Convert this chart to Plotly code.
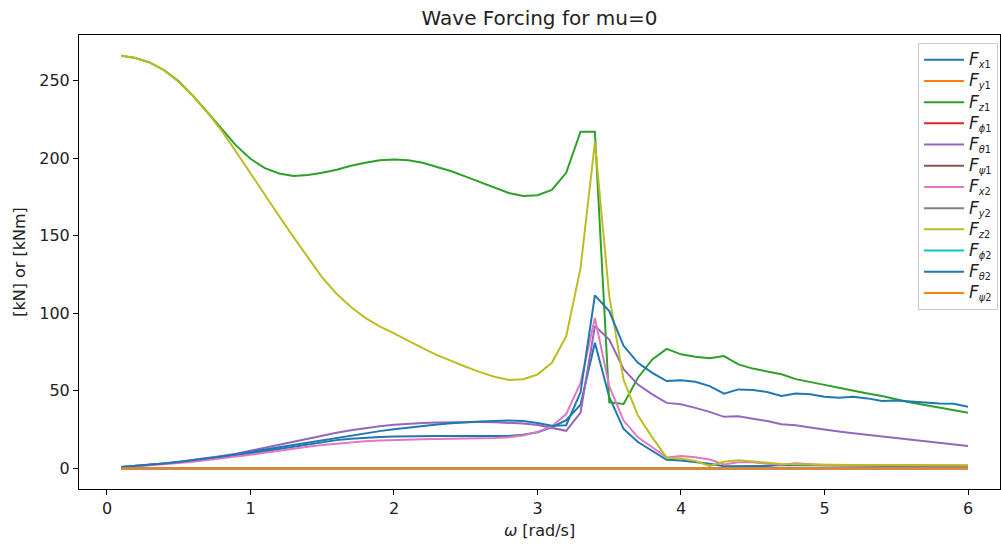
import plotly.graph_objects as go

omega = [round(0.1 * i, 1) for i in range(1, 61)]

F_x1 = [0.8, 1.5, 2.2, 3.0, 3.9, 4.9, 6.0, 7.2, 8.4, 9.7,
        11.1, 12.6, 14.1, 15.6, 17.0, 18.2, 19.1, 19.8, 20.2, 20.5,
        20.7, 20.8, 20.8, 20.8, 20.7, 20.6, 20.6, 20.8, 21.6, 23.3,
        26.5, 31.0, 41.0, 81.0, 46.0, 25.4, 17.0, 11.5, 5.5, 5.0,
        4.0, 2.9, 1.4, 1.3, 1.2, 1.5, 2.1, 2.0, 1.7, 1.5,
        1.4, 1.6, 1.3, 1.3, 1.3, 1.2, 1.2, 1.2, 1.2, 1.2]
F_y1 = [0.0] * 60
F_z1 = [266.0, 264.5, 261.5, 256.5, 249.5, 240.0, 229.5, 218.5, 208.0, 199.5,
        193.5, 190.0, 188.5, 189.0, 190.5, 192.5, 195.0, 197.0, 198.5, 199.0,
        198.5, 197.0, 194.5, 191.5, 188.0, 184.5, 181.0, 177.5, 175.5, 176.0,
        179.5, 190.5, 217.0, 217.0, 42.6, 41.5, 58.4, 70.2, 77.0, 73.5,
        72.0, 71.0, 72.4, 67.0, 64.3, 62.5, 60.6, 57.5, 55.5, 53.8,
        52.0, 50.0, 48.3, 46.6, 44.5, 42.5, 40.8, 39.2, 37.6, 35.9]
F_phi1 = [0.0] * 60
F_theta1 = [0.8, 1.5, 2.3, 3.2, 4.2, 5.3, 6.5, 7.9, 9.4, 11.2,
            13.2, 15.2, 17.2, 19.2, 21.1, 22.9, 24.5, 25.9, 27.1, 28.1,
            28.8, 29.3, 29.6, 29.8, 29.9, 29.9, 29.8, 29.5, 28.9, 28.0,
            26.3, 24.2, 36.0, 91.7, 83.0, 64.0, 54.0, 47.7, 42.2, 41.3,
            39.0, 36.4, 33.2, 33.6, 32.0, 30.5, 28.5, 27.8, 26.3, 24.8,
            23.7, 22.6, 21.6, 20.4, 19.3, 18.3, 17.3, 16.3, 15.4, 14.4]
F_psi1 = [0.0] * 60
F_x2 = [0.6, 1.2, 1.9, 2.6, 3.4, 4.3, 5.3, 6.4, 7.6, 8.8,
        10.2, 11.5, 12.8, 14.0, 15.1, 16.0, 16.8, 17.4, 17.9, 18.3,
        18.6, 18.8, 19.0, 19.1, 19.2, 19.4, 19.6, 20.0, 21.2, 23.5,
        27.0, 35.0, 55.0, 97.0, 53.0, 30.8, 20.0, 13.6, 7.0, 8.0,
        7.2, 5.7, 2.5, 4.0, 4.0, 3.0, 2.3, 3.3, 2.6, 2.0,
        2.0, 2.0, 1.9, 1.9, 1.9, 1.9, 1.8, 1.8, 1.8, 1.8]
F_y2 = [0.0] * 60
F_z2 = [266.0, 264.5, 261.5, 256.5, 249.0, 240.0, 229.5, 217.5, 204.0, 190.0,
        176.5, 162.5, 149.0, 136.0, 123.0, 112.5, 104.0, 97.0, 91.5, 87.0,
        82.0, 77.5, 73.0, 69.0, 65.5, 62.0, 59.0, 57.0, 57.5, 60.5,
        68.0, 85.0, 129.0, 210.0, 111.0, 57.0, 34.0, 20.0, 6.9, 6.4,
        4.7, 1.5, 4.3, 5.2, 4.3, 3.3, 2.8, 2.6, 2.4, 2.3,
        2.2, 2.2, 2.1, 2.1, 2.1, 2.0, 2.0, 2.0, 2.0, 2.0]
F_phi2 = [0.0] * 60
F_theta2 = [0.8, 1.5, 2.3, 3.1, 4.1, 5.2, 6.4, 7.7, 9.1, 10.6,
            12.1, 13.7, 15.3, 16.9, 18.4, 19.9, 21.3, 22.7, 24.0, 25.2,
            26.3, 27.3, 28.2, 29.0, 29.7, 30.2, 30.6, 30.8, 30.5, 29.3,
            27.5, 27.8, 49.0, 111.5, 101.4, 79.0, 68.0, 61.6, 56.3, 56.8,
            55.8, 53.0, 48.1, 50.9, 50.5, 49.2, 46.6, 48.3, 47.7, 46.2,
            45.5, 46.2, 45.1, 43.4, 43.8, 43.2, 42.5, 41.8, 41.7, 39.7]
F_psi2 = [0.0] * 60

subs = ["<i>x</i>1", "<i>y</i>1", "<i>z</i>1", "<i>ϕ</i>1", "<i>θ</i>1", "<i>ψ</i>1",
        "<i>x</i>2", "<i>y</i>2", "<i>z</i>2", "<i>ϕ</i>2", "<i>θ</i>2", "<i>ψ</i>2"]
values = [F_x1, F_y1, F_z1, F_phi1, F_theta1, F_psi1,
          F_x2, F_y2, F_z2, F_phi2, F_theta2, F_psi2]
colors = ["#1f77b4", "#ff7f0e", "#2ca02c", "#d62728", "#9467bd", "#8c564b",
          "#e377c2", "#7f7f7f", "#bcbd22", "#17becf", "#1f77b4", "#ff7f0e"]

fig = go.Figure()
for sub, vals, color in zip(subs, values, colors):
    name = "<span style='font-size:17px'><i>F</i></span><sub>" + sub + "</sub>"
    fig.add_trace(go.Scatter(x=omega, y=vals, mode="lines", name=name,
                             line=dict(color=color, width=2)))

axis_common = dict(showline=True, linecolor="black", linewidth=1, mirror=True,
                   ticks="outside", ticklen=5, tickcolor="black", showgrid=False,
                   zeroline=False, tickfont=dict(size=16, color="#222222"))

fig.update_layout(
    width=1001, height=545,
    margin=dict(l=79, r=1, t=35, b=56),
    paper_bgcolor="white", plot_bgcolor="white",
    font=dict(family="DejaVu Sans", color="#222222"),
    title=dict(text="Wave Forcing for mu=0", x=0.5, xref="paper", xanchor="center",
               y=1 - 18 / 545, yanchor="middle", font=dict(size=20)),
    xaxis=dict(range=[-0.195, 6.223], tickvals=[0, 1, 2, 3, 4, 5, 6],
               title=dict(text="<i>ω</i> [rad/s]", font=dict(size=16), standoff=7),
               **axis_common),
    yaxis=dict(range=[-13.3, 279.3], tickvals=[0, 50, 100, 150, 200, 250],
               title=dict(text="[kN] or [kNm]", font=dict(size=16), standoff=9),
               **axis_common),
    legend=dict(x=0.911, y=0.982, xanchor="left", yanchor="top",
                bgcolor="rgba(255,255,255,0.8)", bordercolor="#cccccc", borderwidth=1,
                font=dict(size=14), tracegroupgap=0, itemwidth=40),
)

fig.write_html("out.html")
